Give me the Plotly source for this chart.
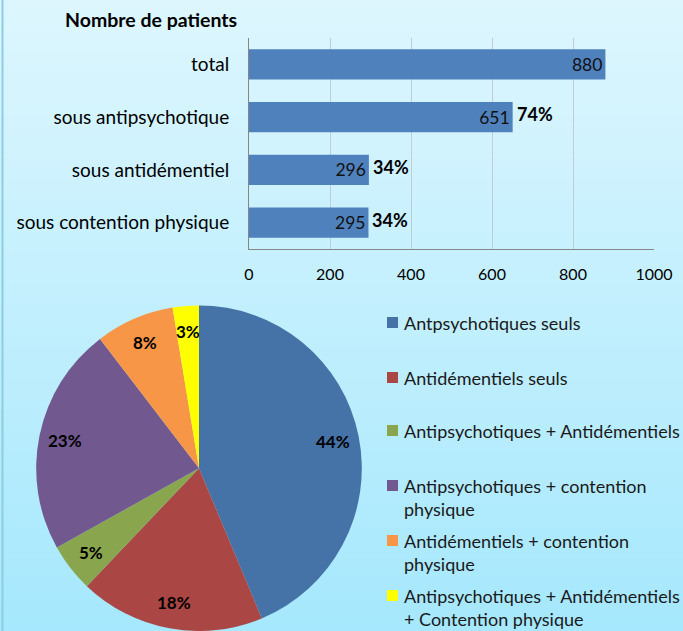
import math
import plotly.graph_objects as go

# ---- data ----
bar_categories = ["total", "sous antipsychotique", "sous antidémentiel", "sous contention physique"]
bar_values = [880, 651, 296, 295]
bar_percents = ["", "74%", "34%", "34%"]
x_ticks = [0, 200, 400, 600, 800, 1000]

pie_labels = [
    "Antpsychotiques seuls",
    "Antidémentiels seuls",
    "Antipsychotiques + Antidémentiels",
    "Antipsychotiques + contention<br>physique",
    "Antidémentiels + contention<br>physique",
    "Antipsychotiques + Antidémentiels<br>+ Contention physique",
]
pie_values = [43.7, 18.4, 4.8, 22.7, 7.8, 2.6]
pie_text = ["44%", "18%", "5%", "23%", "8%", "3%"]
pie_colors = ["#4572A7", "#AA4643", "#89A54E", "#71588F", "#F79646", "#FFFF00"]

W, H = 683, 631
FONT = "Lato"

fig = go.Figure()

fig.add_trace(go.Bar(
    y=bar_categories, x=bar_values, orientation="h",
    marker=dict(color="#4F81BD", line=dict(width=0)),
    text=[str(v) for v in bar_values], textposition="inside", insidetextanchor="end",
    textfont=dict(family=FONT, size=17.5, color="#111111"),
    xaxis="x", yaxis="y", showlegend=False, hoverinfo="skip",
))

# pie geometry (layout only)
pie_x0, pie_x1 = 36 / W, 362 / W
pie_y0, pie_y1 = 0.0, 0.516
fig.add_trace(go.Pie(
    labels=pie_labels, values=pie_values, textinfo="none",
    sort=False, direction="clockwise", rotation=0,
    marker=dict(colors=pie_colors, line=dict(width=0)),
    domain=dict(x=[pie_x0, pie_x1], y=[pie_y0, pie_y1]),
    showlegend=False, hoverinfo="skip",
))

# gradient background
shapes = []
N = 60
c0 = (221, 246, 254)
c1 = (166, 232, 253)
for i in range(N):
    t = i / (N - 1)
    col = tuple(round(c0[k] + (c1[k] - c0[k]) * t) for k in range(3))
    shapes.append(dict(type="rect", xref="paper", yref="paper", layer="below",
                       x0=0, x1=1, y1=1 - i / N, y0=1 - (i + 1) / N - 0.002,
                       fillcolor="rgb(%d,%d,%d)" % col, line=dict(width=0)))
shapes.append(dict(type="line", xref="paper", yref="paper", x0=2.5 / W, x1=2.5 / W, y0=0, y1=1,
                   line=dict(color="#8CCDE0", width=2)))

annotations = []
annotations.append(dict(text="<b>Nombre de patients</b>", xref="paper", yref="paper",
                        x=63 / W, y=1 - 20 / H, xanchor="left", yanchor="middle", showarrow=False,
                        font=dict(family=FONT, size=19.5, color="#000000")))
for cat, v, p in zip(bar_categories, bar_values, bar_percents):
    if p:
        annotations.append(dict(text="<b>%s</b>" % p, xref="x", yref="y", x=v, y=cat,
                                xanchor="left", yanchor="middle", xshift=2, yshift=3, showarrow=False,
                                font=dict(family=FONT, size=18, color="#000000")))

# pie slice labels placed near the rim, angles derived from the values
cx_px = (pie_x0 + pie_x1) / 2 * W
cy_px = (1 - (pie_y0 + pie_y1) / 2) * H
r_px = min((pie_x1 - pie_x0) * W, (pie_y1 - pie_y0) * H) / 2
total = sum(pie_values)
cum = 0.0
for v, t in zip(pie_values, pie_text):
    mid = (cum + v / 2) / total * 2 * math.pi
    cum += v
    rr = 0.84 * r_px
    px = cx_px + rr * math.sin(mid)
    py = cy_px - rr * math.cos(mid)
    annotations.append(dict(text="<b>%s</b>" % t, xref="paper", yref="paper",
                            x=px / W, y=1 - py / H, xanchor="center", yanchor="middle",
                            showarrow=False, font=dict(family=FONT, size=17, color="#000000")))

# legend
leg_y = [322, 377, 430, 485, 540, 595]
for lab, col, yy in zip(pie_labels, pie_colors, leg_y):
    shapes.append(dict(type="rect", xref="paper", yref="paper",
                       x0=387 / W, x1=398 / W, y0=1 - (yy + 6) / H, y1=1 - (yy - 5) / H,
                       fillcolor=col, line=dict(width=0)))
    annotations.append(dict(text=lab, xref="paper", yref="paper", x=402 / W, y=1 - (yy - 12) / H,
                            xanchor="left", yanchor="top", align="left", showarrow=False,
                            font=dict(family=FONT, size=18, color="#1a1a1a")))

fig.update_layout(
    width=W, height=H, margin=dict(l=0, r=0, t=0, b=0, autoexpand=False),
    paper_bgcolor="#C5EEFD", plot_bgcolor="rgba(0,0,0,0)",
    bargap=0.43, showlegend=False,
    xaxis=dict(domain=[249 / W, 654 / W], range=[0, 1000], tickvals=x_ticks,
               showgrid=True, gridcolor="#C0CCD6", gridwidth=1, zeroline=False,
               showline=True, linecolor="#868686", linewidth=1, ticks="", ticklen=0,
               ticklabelstandoff=11, automargin=False,
               tickfont=dict(family=FONT, size=16, color="#000000"), anchor="y",
               fixedrange=True),
    yaxis=dict(domain=[1 - 249 / H, 1 - 38 / H], autorange="reversed",
               showline=True, linecolor="#868686", linewidth=1, showgrid=False,
               ticks="", ticklabelstandoff=15, automargin=False,
               tickfont=dict(family=FONT, size=19, color="#000000"), anchor="x",
               fixedrange=True),
    shapes=shapes, annotations=annotations,
)

fig.write_html("out.html", config={"displayModeBar": False},
               post_script="document.body.style.margin='0';document.body.style.overflow='hidden';")
